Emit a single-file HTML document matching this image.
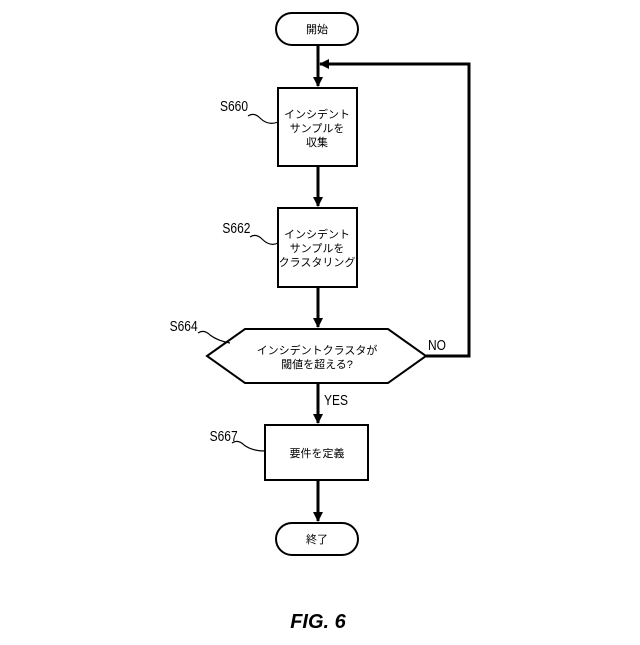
<!DOCTYPE html>
<html><head><meta charset="utf-8"><style>
body{margin:0;background:#fff;}
svg text{font-family:"Liberation Sans","Noto Sans CJK JP",sans-serif;}
</style></head><body>
<svg width="640" height="640" viewBox="0 0 640 640" xmlns="http://www.w3.org/2000/svg">
<defs><marker id="a" markerWidth="10" markerHeight="10" refX="9" refY="5" orient="auto" markerUnits="userSpaceOnUse"><path d="M0,0 L10,5 L0,10 z" fill="#000"/></marker></defs>
<g fill="none" stroke="#000" stroke-width="2">
<rect x="276" y="13" width="82" height="32" rx="16"/>
<rect x="278" y="88" width="79" height="78"/>
<rect x="278" y="208" width="79" height="79"/>
<polygon points="207,356 245,329 388,329 426,356 388,383 245,383"/>
<rect x="265" y="425" width="103" height="55"/>
<rect x="276" y="523" width="82" height="32" rx="16"/>
</g>
<g stroke="#000" stroke-width="3" fill="none">
<line x1="318" y1="45" x2="318" y2="86" marker-end="url(#a)"/>
<line x1="318" y1="166" x2="318" y2="206" marker-end="url(#a)"/>
<line x1="318" y1="287" x2="318" y2="327" marker-end="url(#a)"/>
<line x1="318" y1="383" x2="318" y2="423" marker-end="url(#a)"/>
<line x1="318" y1="480" x2="318" y2="521" marker-end="url(#a)"/>
<polyline points="426,356 469,356 469,64 320,64" marker-end="url(#a)"/>
</g>
<g fill="none" stroke="#000" stroke-width="1.2">
<path d="M248,116 q6,-4 12,2 q8,8 18,4"/>
<path d="M250,237 q6,-4 12,2 q8,8 16,4"/>
<path d="M198,333 q6,-4 12,2 q8,6 20,8"/>
<path d="M232,443 q6,-4 12,2 q8,6 21,6"/>
</g>
<g font-size="11" text-anchor="middle" fill="#000">
<text x="317" y="33">開始</text>
<text x="317" y="118">インシデント</text>
<text x="317" y="132">サンプルを</text>
<text x="317" y="146">収集</text>
<text x="317" y="238">インシデント</text>
<text x="317" y="252">サンプルを</text>
<text x="317" y="266">クラスタリング</text>
<text x="317" y="354">インシデントクラスタが</text>
<text x="317" y="368">閾値を超える?</text>
<text x="317" y="457">要件を定義</text>
<text x="317" y="543">終了</text>
</g>
<g font-size="15" fill="#000" transform="scale(0.8,1)">
<text x="275" y="111">S660</text>
<text x="278" y="233">S662</text>
<text x="212" y="331">S664</text>
<text x="262" y="441">S667</text>
<text x="535" y="350">NO</text>
<text x="405" y="405">YES</text>
</g>
<text x="318" y="628" font-size="20" font-weight="bold" font-style="italic" text-anchor="middle">FIG. 6</text>
</svg>
</body></html>
